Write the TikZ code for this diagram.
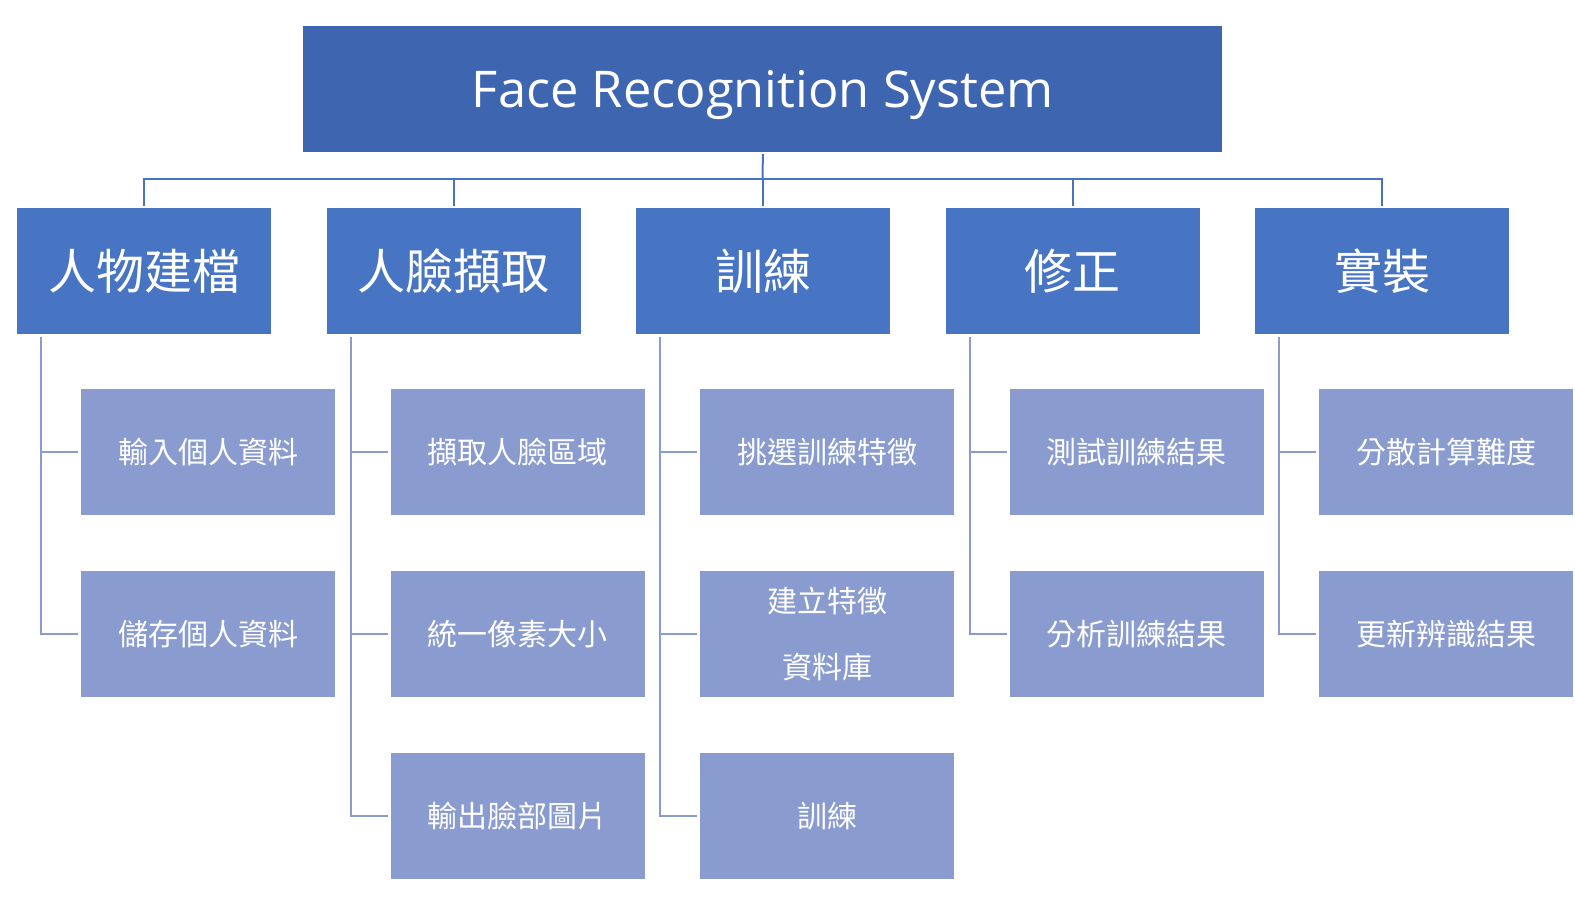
\documentclass[tikz,border=0pt]{standalone}
\usepackage{fontspec}
\setmainfont{Noto Sans CJK TC}
\newfontfamily\titlefont{Open Sans}
\definecolor{rootc}{HTML}{3E66B0}
\definecolor{lonec}{HTML}{4775C4}
\definecolor{childc}{HTML}{8A9CCF}
\definecolor{busc}{HTML}{4674C2}
\begin{document}
\begin{tikzpicture}[x=0.5pt,y=-0.5pt,
  box/.style={rectangle,anchor=north west,inner sep=0pt,minimum width=127pt,minimum height=63pt,text=white},
  rootbox/.style={box,fill=rootc,minimum width=459.5pt,text depth=0pt,font=\titlefont\fontsize{25.3}{30}\selectfont},
  lone/.style={box,fill=lonec,font=\fontsize{24}{28}\selectfont},
  child/.style={box,fill=childc,align=center,font=\fontsize{15}{33}\selectfont},
  busline/.style={draw=busc,line width=1pt},
  childline/.style={draw=childc,line width=1pt}]
\useasboundingbox (0,0) rectangle (1575,904);
\node[rootbox] (root) at (303,26) {Face Recognition System};
\foreach \i/\t in {0/人物建檔,1/人臉擷取,2/訓練,3/修正,4/實裝}{
  \node[lone] (L\i) at (17+\i*309.5,208) {\t};
}
% children
\node[child] (c01) at (81,389) {輸入個人資料};
\node[child] (c02) at (81,571) {儲存個人資料};
\node[child] (c11) at (390.5,389) {擷取人臉區域};
\node[child] (c12) at (390.5,571) {統一像素大小};
\node[child] (c13) at (390.5,753) {輸出臉部圖片};
\node[child] (c21) at (700,389) {挑選訓練特徵};
\node[child] (c22) at (700,571) {建立特徵\\資料庫};
\node[child] (c23) at (700,753) {訓練};
\node[child] (c31) at (1009.5,389) {測試訓練結果};
\node[child] (c32) at (1009.5,571) {分析訓練結果};
\node[child] (c41) at (1319,389) {分散計算難度};
\node[child] (c42) at (1319,571) {更新辨識結果};
% bus
\coordinate (bus) at (762.5,179);
\draw[busline] ([yshift=-0.5pt]root.south) -- (bus);
\foreach \i in {0,...,4}{
  \draw[busline] (bus) -| ([yshift=1pt]L\i.north);
}
% child connectors
\foreach \i/\last in {0/2,1/3,2/3,3/2,4/2}{
  \coordinate (v\i) at ([xshift=12pt,yshift=-1.2pt]L\i.south west);
  \draw[childline] (v\i) |- ([xshift=-1.5pt]c\i\last.west);
  \draw[childline] (v\i) |- ([xshift=-1.5pt]c\i1.west);
}
\draw[childline] (v1) |- ([xshift=-1.5pt]c12.west);
\draw[childline] (v2) |- ([xshift=-1.5pt]c22.west);
\end{tikzpicture}
\end{document}
